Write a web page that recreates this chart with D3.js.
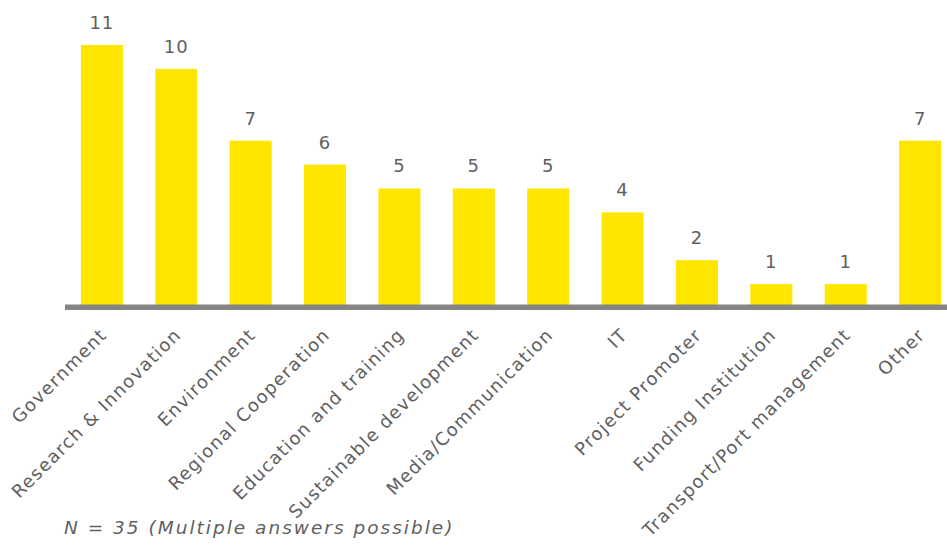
<!DOCTYPE html>
<html>
<head>
<meta charset="utf-8">
<script src="https://cdn.jsdelivr.net/npm/d3@7"></script>
<style>
  html, body { margin: 0; padding: 0; background: #fff; }
  svg { display: block; }
  text { font-family: "DejaVu Sans", sans-serif; fill: #5f5f5f; }
</style>
</head>
<body>
<svg id="chart" width="947" height="549"></svg>
<script>
// Stakeholder categories and number of answers
const categories = [
  "Government", "Research & Innovation", "Environment", "Regional Cooperation",
  "Education and training", "Sustainable development", "Media/Communication",
  "IT", "Project Promoter", "Funding Institution", "Transport/Port management", "Other"
];
const counts = [11, 10, 7, 6, 5, 5, 5, 4, 2, 1, 1, 7];
const footnote = "N = 35 (Multiple answers possible)";

const W = 947, H = 549;
const svg = d3.select("#chart");

const x = d3.scaleBand()
  .domain(categories)
  .range([66, 956])
  .paddingInner(0.435)
  .paddingOuter(0.2);

const y = d3.scaleLinear()
  .domain([0, 11])
  .range([308, 45]);

// bars
svg.append("g")
  .selectAll("rect")
  .data(counts)
  .join("rect")
  .attr("x", (d, i) => x(categories[i]))
  .attr("y", d => y(d))
  .attr("width", x.bandwidth())
  .attr("height", d => y(0) - y(d))
  .attr("fill", "#ffe600");

// value labels
svg.append("g")
  .selectAll("text")
  .data(counts)
  .join("text")
  .attr("x", (d, i) => x(categories[i]) + x.bandwidth() / 2)
  .attr("y", d => y(d) - 16)
  .attr("text-anchor", "middle")
  .attr("font-size", 18)
  .attr("letter-spacing", 1)
  .text(d => d);

// baseline
svg.append("line")
  .attr("x1", 65).attr("x2", W)
  .attr("y1", 307.3).attr("y2", 307.3)
  .attr("stroke", "#858585")
  .attr("stroke-width", 5.5);

// rotated category labels
svg.append("g")
  .selectAll("text")
  .data(categories)
  .join("text")
  .attr("text-anchor", "end")
  .attr("font-size", 18)
  .attr("letter-spacing", 1.3)
  .attr("transform", d => `translate(${x(d) + x.bandwidth() / 2 + 6},${336}) rotate(-45)`)
  .text(d => d);

// sample note
svg.append("text")
  .attr("x", 64)
  .attr("y", 534)
  .attr("font-size", 18.5)
  .attr("font-style", "italic")
  .attr("letter-spacing", 2)
  .text(footnote);
</script>
</body>
</html>
